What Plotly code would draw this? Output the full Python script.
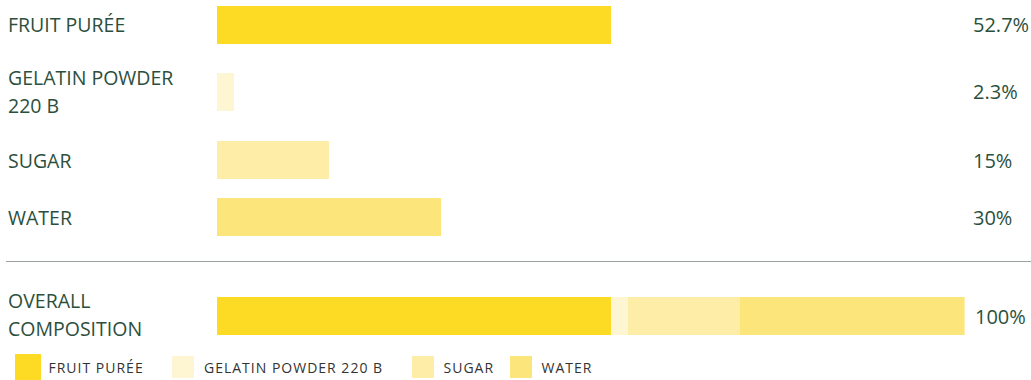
import plotly.graph_objects as go

# Recipe composition (percent of total weight)
ingredients = ["FRUIT PURÉE", "GELATIN POWDER 220 B", "SUGAR", "WATER"]
row_labels = ["FRUIT PURÉE", "GELATIN POWDER<br>220 B", "SUGAR", "WATER"]
shares = [52.7, 2.3, 15, 30]
value_labels = ["52.7%", "2.3%", "15%", "30%"]
overall_label = "OVERALL<br>COMPOSITION"
overall_value = "100%"
colors = ["#FDDA24", "#FEF6D3", "#FEEDA6", "#FCE67C"]

W, H = 1031, 380
TEXT = "#2C4F3D"
LABEL_FONT = dict(family="Open Sans", size=19.5, color=TEXT)
VALUE_FONT = dict(family="Open Sans", size=20, color=TEXT)

# Vertical layout (y axis is in pixels, top = 0)
row_y = [24.5, 91.5, 160, 217]
overall_y = 316
overall_label_y = 314.5
bar_h = 38
sep_y = 261.5
label_line_gap = 28

fig = go.Figure()

# One bar per ingredient
for name, val, col, y in zip(ingredients, shares, colors, row_y):
    fig.add_trace(go.Bar(
        x=[val], y=[y], orientation="h", width=bar_h,
        marker=dict(color=col, line=dict(width=0)),
        name=name, showlegend=False, hoverinfo="x+name",
    ))

# Stacked overall bar
for name, val, col in zip(ingredients, shares, colors):
    fig.add_trace(go.Bar(
        x=[val], y=[overall_y], orientation="h", width=bar_h,
        marker=dict(color=col, line=dict(width=0)),
        name=name, showlegend=False, hoverinfo="x+name",
    ))

ann = []

def add_label(text, yc):
    lines = text.split("<br>")
    n = len(lines)
    for i, ln in enumerate(lines):
        ann.append(dict(
            text=ln, x=6 / W, xref="paper", y=yc + (i - (n - 1) / 2) * label_line_gap,
            yref="y", xanchor="left", yanchor="middle", showarrow=False,
            font=LABEL_FONT,
        ))

for lab, y in zip(row_labels, row_y):
    add_label(lab, y)
add_label(overall_label, overall_label_y)

for v, y in zip(value_labels, row_y):
    ann.append(dict(text=v, x=971 / W, xref="paper", y=y, yref="y",
                    xanchor="left", yanchor="middle", showarrow=False,
                    font=VALUE_FONT))
ann.append(dict(text=overall_value, x=973 / W, xref="paper", y=overall_y, yref="y",
                xanchor="left", yanchor="middle", showarrow=False, font=VALUE_FONT))

shapes = [dict(type="line", xref="paper", yref="y", x0=6 / W, x1=1.0,
               y0=sep_y, y1=sep_y, line=dict(color="#9BA19E", width=1.2))]

# Legend drawn as swatches + letter-spaced captions
legend_x = [15, 172, 412, 510]
legend_size = [26, 22, 22, 22]
legend_text_x = [49, 204, 444, 542]
legend_yc = 367
letter_spacing = 1
n_before_legend = len(ann)
for name, col, lx, sz, tx in zip(ingredients, colors, legend_x, legend_size, legend_text_x):
    shapes.append(dict(type="rect", xref="paper", yref="y",
                       x0=lx / W, x1=(lx + sz) / W,
                       y0=legend_yc - sz / 2, y1=legend_yc + sz / 2,
                       fillcolor=col, line=dict(width=0)))
    # captions are centred inside their box, so extra spacing grows both ways
    shift = len(name) * letter_spacing / 2 - 2.5
    ann.append(dict(text=name, x=(tx + shift) / W, xref="paper", y=legend_yc, yref="y",
                    xanchor="left", yanchor="middle", showarrow=False,
                    font=dict(family="Open Sans", size=14, color="#333333")))

fig.update_layout(
    width=W, height=H, autosize=False,
    margin=dict(l=0, r=0, t=0, b=0),
    paper_bgcolor="white", plot_bgcolor="white",
    barmode="stack", bargap=0,
    xaxis=dict(domain=[217 / W, 964.6 / W], range=[0, 100], visible=False,
               fixedrange=True),
    yaxis=dict(domain=[0, 1], range=[H, 0], visible=False, fixedrange=True),
    annotations=ann, shapes=shapes,
    showlegend=False,
)

spacing_js = """
var gd = document.getElementById('{plot_id}');
gd.querySelectorAll('g.annotation').forEach(function(g) {
  var idx = parseInt(g.getAttribute('data-index'));
  if (idx >= %d) {
    g.querySelectorAll('text').forEach(function(t) {
      t.style.letterSpacing = '%dpx';
    });
  }
});
""" % (n_before_legend, letter_spacing)

fig.write_html("out.html", post_script=spacing_js)
